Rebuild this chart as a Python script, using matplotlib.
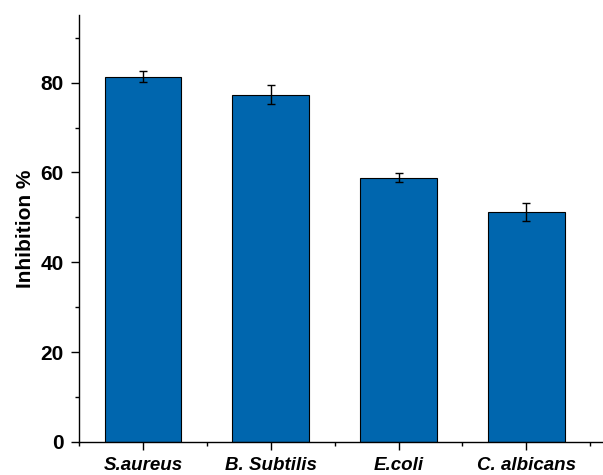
import numpy as np
import matplotlib
matplotlib.use('Agg')
import matplotlib.pyplot as plt
from matplotlib.ticker import MultipleLocator, FixedLocator

strains = ['S.aureus', 'B. Subtilis', 'E.coli', 'C. albicans']
inhibition = [81.3, 77.3, 58.8, 51.2]
inhibition_err = [1.2, 2.1, 1.0, 1.9]

plt.rcParams['font.family'] = ['Liberation Sans', 'DejaVu Sans']

fig = plt.figure(figsize=(6.03, 4.75), dpi=100)
ax = fig.add_axes([0.131, 0.0695, 0.869, 0.8985])

x = np.arange(1, len(strains) + 1)
ax.bar(x, inhibition, width=0.6, color='#0066ae', edgecolor='black', linewidth=0.8,
       yerr=inhibition_err, capsize=3.2,
       error_kw=dict(elinewidth=1.0, capthick=1.0, ecolor='black'), zorder=2)

ax.set_xlim(0.5, 4.6)
ax.set_ylim(0, 95)

ax.spines['top'].set_visible(False)
ax.spines['right'].set_visible(False)
ax.spines['left'].set_linewidth(1.0)
ax.spines['bottom'].set_linewidth(1.0)

ax.set_xticks(x)
ax.set_xticklabels(strains, fontsize=13.5, fontweight='bold', fontstyle='italic')
ax.xaxis.set_minor_locator(FixedLocator([0.5, 1.5, 2.5, 3.5, 4.5]))
ax.yaxis.set_major_locator(MultipleLocator(20))
ax.yaxis.set_minor_locator(MultipleLocator(10))
for lbl in ax.get_yticklabels():
    lbl.set_fontsize(15)
    lbl.set_fontweight('bold')

ax.tick_params(axis='both', which='major', length=6, width=1.0, direction='out')
ax.tick_params(axis='both', which='minor', length=3, width=1.0, direction='out')
ax.tick_params(axis='x', which='major', pad=5)
ax.tick_params(axis='y', which='major', pad=5)

ax.set_ylabel('Inhibition %', fontsize=15, fontweight='bold', labelpad=4)

fig.savefig('out.png', dpi=100)
